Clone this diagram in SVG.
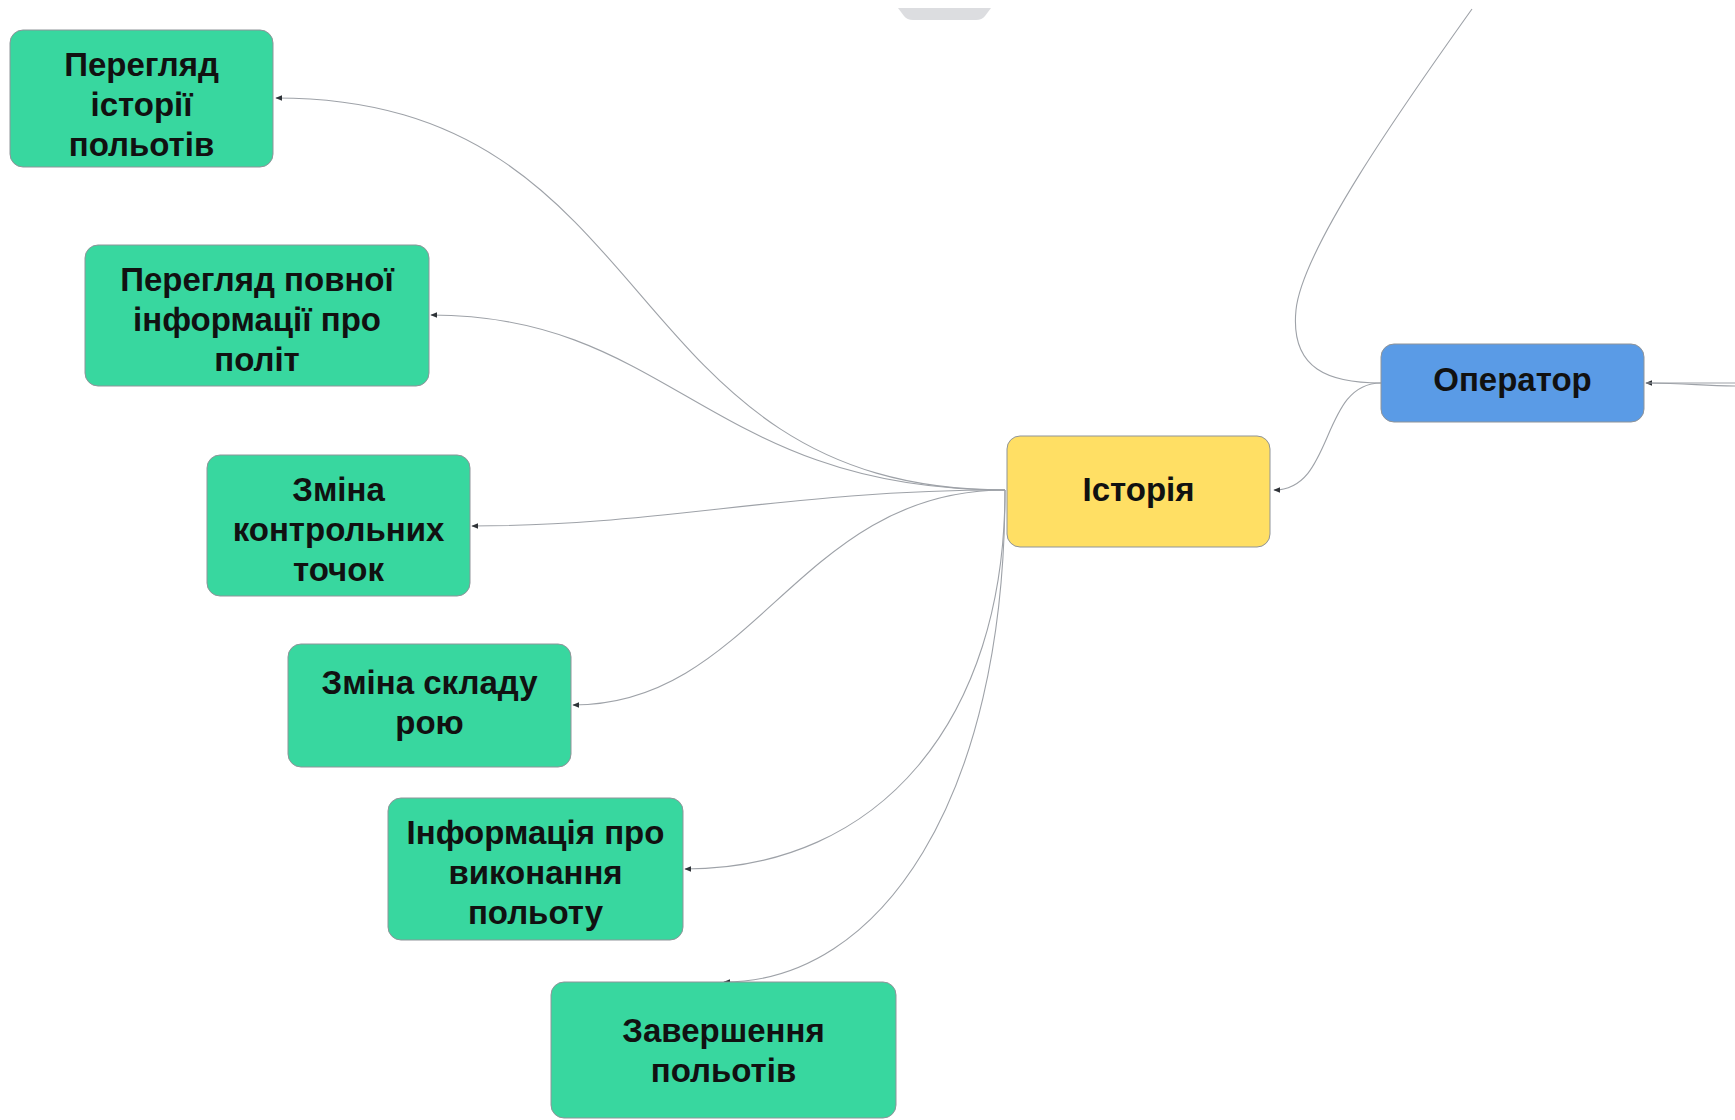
<svg xmlns="http://www.w3.org/2000/svg" width="1735" height="1120" viewBox="0 0 1735 1120">
<style>
  .node rect { stroke: #8f9499; stroke-width: 1; }
  .green rect { fill: #38d79f; }
  .yellow rect { fill: #ffdf64; }
  .blue rect { fill: #5a9be6; }
  .node text { font-family: "Liberation Sans", Arial, sans-serif; font-weight: bold; font-size: 33px; fill: #111; text-anchor: middle; }
  .conn path { fill: none; stroke: #9ea2a8; stroke-width: 1.1; }
</style>
<defs>
  <marker id="arr" viewBox="0 0 10 10" refX="9" refY="5" markerWidth="7" markerHeight="7" markerUnits="userSpaceOnUse" orient="auto">
    <path d="M0,1 L10,5 L0,9 Z" fill="#2f3338"/>
  </marker>
</defs>
<rect width="1735" height="1120" fill="#ffffff"/>
<path d="M898,8 L991,8 L985,16 Q982,20 976,20 L913,20 Q907,20 904,16 Z" fill="#dcdde0"/>
<g id="connectors" class="conn">
  <path d="M1472,9 C1400,110 1302,250 1296,310 C1290,370 1330,383 1381,383"/>
  <path d="M1735,386 C1700,386 1690,383 1646,383" marker-end="url(#arr)"/>
  <path d="M1735,383 L1646,383"/>
  <path d="M1381,383 C1320,383 1335,490 1274,490" marker-end="url(#arr)"/>
  <path d="M1005,490 C611,490 668,98 276,98" marker-end="url(#arr)"/>
  <path d="M1005,490 C709,490 672,315 431,315" marker-end="url(#arr)"/>
  <path d="M1005,490 C786,490 662,526 472,526" marker-end="url(#arr)"/>
  <path d="M1005,490 C798,490 756,705 573,705" marker-end="url(#arr)"/>
  <path d="M1005,490 C1005,720 880,869 685,869" marker-end="url(#arr)"/>
  <path d="M1005,490 C1005,800 880,982 724,982" marker-end="url(#arr)"/>
</g>
<g id="n-operator" class="node blue">
  <rect x="1381" y="344" width="263" height="78" rx="13"/>
  <text x="1512.5" y="391">Оператор</text>
</g>
<g id="n-history" class="node yellow">
  <rect x="1007" y="436" width="263" height="111" rx="13"/>
  <text x="1138.5" y="501">Історія</text>
</g>
<g id="n-view-history" class="node green">
  <rect x="10" y="30" width="263" height="137" rx="13"/>
  <text x="141.5" y="76">Перегляд</text>
  <text x="141.5" y="116">історії</text>
  <text x="141.5" y="156">польотів</text>
</g>
<g id="n-view-full" class="node green">
  <rect x="85" y="245" width="344" height="141" rx="13"/>
  <text x="257" y="291">Перегляд повної</text>
  <text x="257" y="331">інформації про</text>
  <text x="257" y="371">політ</text>
</g>
<g id="n-change-points" class="node green">
  <rect x="207" y="455" width="263" height="141" rx="13"/>
  <text x="338.5" y="501">Зміна</text>
  <text x="338.5" y="541">контрольних</text>
  <text x="338.5" y="581">точок</text>
</g>
<g id="n-change-swarm" class="node green">
  <rect x="288" y="644" width="283" height="123" rx="13"/>
  <text x="429.5" y="694">Зміна складу</text>
  <text x="429.5" y="734">рою</text>
</g>
<g id="n-flight-info" class="node green">
  <rect x="388" y="798" width="295" height="142" rx="13"/>
  <text x="535.5" y="844">Інформація про</text>
  <text x="535.5" y="884">виконання</text>
  <text x="535.5" y="924">польоту</text>
</g>
<g id="n-finish" class="node green">
  <rect x="551" y="982" width="345" height="136" rx="13"/>
  <text x="723.5" y="1042">Завершення</text>
  <text x="723.5" y="1082">польотів</text>
</g>
</svg>
